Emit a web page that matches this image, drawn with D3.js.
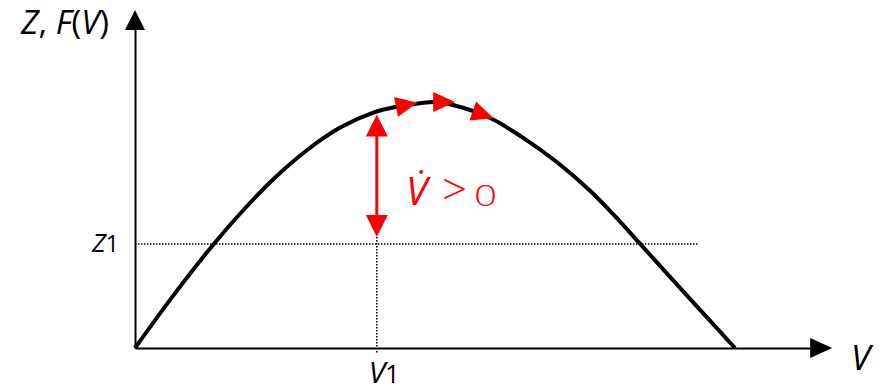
<!DOCTYPE html>
<html>
<head>
<meta charset="utf-8">
<script src="https://cdn.jsdelivr.net/npm/d3@7"></script>
<style>
  html, body { margin: 0; padding: 0; background: #fff; }
  svg { display: block; }
  text { font-family: "Open Sans", "Noto Sans", sans-serif; }
</style>
</head>
<body>
<svg id="chart" width="882" height="388"></svg>
<script>
// Curve F(V): sampled values along V
const vValues = [0, 0.65, 1.3, 1.83, 2.3, 2.87, 3.42, 3.97, 4.37, 4.75, 5.0, 5.3, 5.92, 6.47, 7.03, 7.58, 8.0, 8.42, 9.22, 10];
const fValues = [0, 2.17, 4.19, 5.67, 6.85, 8.05, 8.96, 9.57, 9.81, 9.95, 10, 9.88, 9.35, 8.54, 7.56, 6.40, 5.36, 4.23, 2.08, 0];

// Reference level Z1 and the matching state V1
const z1 = 4.23;
const v1 = 4.03;

// Positions along V where the flow arrows sit on the curve
const flowV = [4.35, 4.97, 5.63];

// Axis extents (in data units)
const vAxisMax = 11.62;
const fAxisMax = 13.74;

const svg = d3.select("#chart");
const x = d3.scaleLinear().domain([0, 10]).range([135, 735]);
const y = d3.scaleLinear().domain([0, 10]).range([348, 102]);

const red = "#ff0000";

// Axes: plain lines with no ticks, arrowheads at the ends
const xAxis = d3.axisBottom(d3.scaleLinear().domain([0, vAxisMax - 0.37]).range([x(0), x(vAxisMax - 0.37)]))
  .tickValues([]).tickSizeOuter(0);
svg.append("g").attr("transform", `translate(0,${y(0)})`).call(xAxis)
  .select(".domain").attr("stroke", "#000").attr("stroke-width", 2);

const yAxis = d3.axisLeft(d3.scaleLinear().domain([0, fAxisMax - 0.77]).range([y(0), y(fAxisMax - 0.77)]))
  .tickValues([]).tickSizeOuter(0);
svg.append("g").attr("transform", `translate(${x(0)},0)`).call(yAxis)
  .select(".domain").attr("stroke", "#000").attr("stroke-width", 2);

// Arrowhead on the V axis
const xt = x(vAxisMax), yt = y(0);
svg.append("path")
  .attr("d", `M${xt},${yt} L${xt - 22},${yt - 10} L${xt - 22},${yt + 10} Z`)
  .attr("fill", "#000");
// Arrowhead on the F axis
const xa = x(0), ya = y(fAxisMax);
svg.append("path")
  .attr("d", `M${xa},${ya} L${xa - 10},${ya + 20} L${xa + 10},${ya + 20} Z`)
  .attr("fill", "#000");

// Dotted guides for Z1 and V1
svg.append("line")
  .attr("x1", x(0)).attr("x2", x(9.38))
  .attr("y1", y(z1)).attr("y2", y(z1))
  .attr("stroke", "#000").attr("stroke-width", 1.5).attr("stroke-dasharray", "1.5,1.5");
svg.append("line")
  .attr("x1", x(v1)).attr("x2", x(v1))
  .attr("y1", y(z1) - 7).attr("y2", y(-0.2))
  .attr("stroke", "#000").attr("stroke-width", 1.5).attr("stroke-dasharray", "1.5,1.5");

// The curve F(V)
const pts = vValues.map((v, i) => [v, fValues[i]]);
const line = d3.line().x(d => x(d[0])).y(d => y(d[1])).curve(d3.curveCatmullRom.alpha(0.5));
const curve = svg.append("path")
  .datum(pts)
  .attr("d", line)
  .attr("fill", "none")
  .attr("stroke", "#000")
  .attr("stroke-width", 4)
  .attr("stroke-linejoin", "round");

// Point on the drawn curve at a given screen x
const node = curve.node();
const total = node.getTotalLength();
function lengthAtX(px) {
  let lo = 0, hi = total;
  for (let k = 0; k < 40; k++) {
    const mid = (lo + hi) / 2;
    if (node.getPointAtLength(mid).x < px) lo = mid; else hi = mid;
  }
  return (lo + hi) / 2;
}

// Flow arrows following the curve
flowV.forEach(v => {
  const L = lengthAtX(x(v));
  const p = node.getPointAtLength(L);
  const q = node.getPointAtLength(Math.min(total, L + 2));
  const r = node.getPointAtLength(Math.max(0, L - 2));
  let tx = q.x - r.x, ty = q.y - r.y;
  const n = Math.hypot(tx, ty); tx /= n; ty /= n;
  const nx = -ty, ny = tx;
  const len = 22, half = 10;
  const tip = [p.x + tx * len, p.y + ty * len];
  const b1 = [p.x + nx * half, p.y + ny * half];
  const b2 = [p.x - nx * half, p.y - ny * half];
  svg.append("path")
    .attr("d", `M${tip[0]},${tip[1]} L${b1[0]},${b1[1]} L${b2[0]},${b2[1]} Z`)
    .attr("fill", red);
});

// Double arrow between the curve and Z1 at V1
const fAtV1 = y.invert(node.getPointAtLength(lengthAtX(x(v1))).y);
const ax = x(v1);
const topTip = y(fAtV1) + 3;
const botTip = y(z1) - 7;
const head = 22, hw = 11;
svg.append("line")
  .attr("x1", ax).attr("x2", ax)
  .attr("y1", topTip + head - 2).attr("y2", botTip - head + 2)
  .attr("stroke", red).attr("stroke-width", 3);
svg.append("path")
  .attr("d", `M${ax},${topTip} L${ax - hw},${topTip + head} L${ax + hw},${topTip + head} Z`)
  .attr("fill", red);
svg.append("path")
  .attr("d", `M${ax},${botTip} L${ax - hw},${botTip - head} L${ax + hw},${botTip - head} Z`)
  .attr("fill", red);

// Label: V̇ > 0
const lab = svg.append("text")
  .attr("y", 205)
  .attr("fill", red)
  .attr("font-size", 39);
lab.append("tspan").attr("x", 406).attr("font-style", "italic").text("V\u0307");
lab.append("tspan").attr("x", 442).attr("font-size", 44).attr("font-weight", 300).text(">");
svg.append("text")
  .attr("transform", "translate(474,206) scale(1.35,1)")
  .attr("fill", red)
  .attr("font-size", 30)
  .attr("font-weight", 300)
  .text("0");

// Axis titles
const ttl = svg.append("text").attr("x", 21).attr("y", 34).attr("font-size", 33).attr("fill", "#000");
ttl.append("tspan").attr("font-style", "italic").text("Z");
ttl.append("tspan").text(", ");
ttl.append("tspan").attr("font-style", "italic").text("F");
ttl.append("tspan").text("(");
ttl.append("tspan").attr("font-style", "italic").text("V");
ttl.append("tspan").text(")");

svg.append("text")
  .attr("x", 851).attr("y", 370)
  .attr("font-size", 35).attr("font-style", "italic")
  .text("V");

// Level labels Z1 and V1
const zl = svg.append("text")
  .attr("x", x(0) - 16).attr("y", y(z1) + 8)
  .attr("text-anchor", "end").attr("font-size", 26);
zl.append("tspan").attr("font-style", "italic").text("Z");
zl.append("tspan").attr("font-size", 23).text("1");

const vl = svg.append("text")
  .attr("x", x(v1) - 8).attr("y", 383)
  .attr("font-size", 30);
vl.append("tspan").attr("font-style", "italic").text("V");
vl.append("tspan").attr("font-size", 25).text("1");
</script>
</body>
</html>
